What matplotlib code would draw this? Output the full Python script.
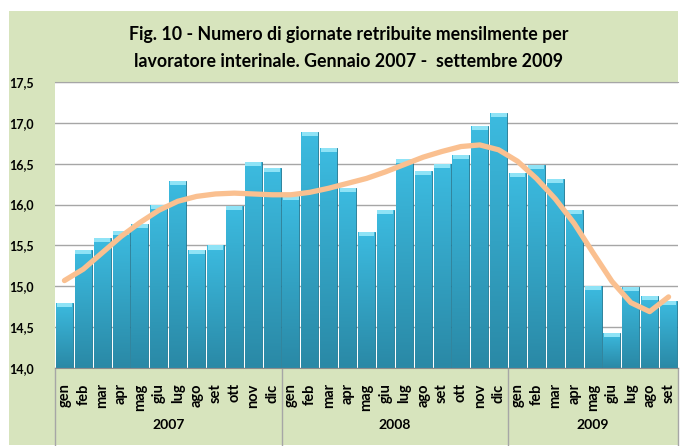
import numpy as np
import matplotlib
matplotlib.use("Agg")
import matplotlib.pyplot as plt
from matplotlib.patches import Rectangle
from matplotlib.ticker import FuncFormatter
from matplotlib.colors import LinearSegmentedColormap

plt.rcParams['font.family'] = ['Lato', 'DejaVu Sans']

title = "Fig. 10 - Numero di giornate retribuite mensilmente per\nlavoratore interinale. Gennaio 2007 -  settembre 2009"

months = ["gen", "feb", "mar", "apr", "mag", "giu", "lug", "ago", "set", "ott", "nov", "dic"]
years = ["2007", "2008", "2009"]
months_per_year = [12, 12, 9]

# giornate retribuite per mese
values = [14.80, 15.44, 15.59, 15.68, 15.76, 16.00, 16.29, 15.45, 15.50, 15.98, 16.52, 16.45,
          16.11, 16.89, 16.69, 16.20, 15.66, 15.93, 16.56, 16.41, 16.50, 16.61, 16.96, 17.12,
          16.39, 16.48, 16.31, 15.93, 15.00, 14.43, 14.99, 14.88, 14.82]

# linea di tendenza
trend = [15.07, 15.21, 15.41, 15.61, 15.78, 15.93, 16.04, 16.10, 16.13, 16.14, 16.13, 16.12,
         16.12, 16.15, 16.20, 16.26, 16.32, 16.40, 16.49, 16.58, 16.65, 16.71, 16.73, 16.67,
         16.53, 16.32, 16.07, 15.77, 15.41, 15.06, 14.80, 14.69, 14.87]

W, H = 680, 446
fig = plt.figure(figsize=(W / 100, H / 100), dpi=100)
fig.patch.set_facecolor('white')
green = '#d7e4bd'
fig.add_artist(Rectangle((9 / W, 1 / H), 669 / W, 434 / H, transform=fig.transFigure,
                         facecolor=green, edgecolor='none', zorder=-5))

ax = fig.add_axes([55 / W, (H - 368) / H, 623 / W, 286 / H])
ax.set_facecolor('white')

x = np.arange(len(values))
labels = [months[i] for n in months_per_year for i in range(n)]

bars = ax.bar(x, [v - 14 for v in values], bottom=14, width=0.9, color='#34b0d6',
              edgecolor='#1f7590', linewidth=0.6, zorder=2)

# gradiente verticale sulle barre
grad = np.linspace(0, 1, 100).reshape(-1, 1)
cmap = LinearSegmentedColormap.from_list('b', ['#2a89a6', '#3cbbe0'])
for b in bars:
    bx, by = b.get_x(), b.get_y()
    im = ax.imshow(grad, extent=[bx, bx + b.get_width(), by, by + b.get_height()],
                   origin='lower', cmap=cmap, aspect='auto', zorder=2.5)
    im.set_clip_path(b)
# riflesso in cima
ax.bar(x, 0.05, bottom=[v - 0.05 for v in values], width=0.84, color='#8fe3f6',
       edgecolor='none', zorder=3)

ax.plot(x, trend, color='#fac090', lw=3.8, solid_capstyle='round',
        solid_joinstyle='round', zorder=4)

ax.set_xlim(-0.5, len(values) - 0.5)
ax.set_ylim(14, 17.5)
ax.set_yticks(np.arange(14, 17.51, 0.5))
ax.yaxis.set_major_formatter(FuncFormatter(lambda v, p: f"{v:.1f}".replace('.', ',')))
ax.grid(axis='y', color='#a6a6a6', lw=1, zorder=1)
ax.set_axisbelow(True)
for s in ['left', 'right']:
    ax.spines[s].set_visible(False)
ax.spines['top'].set_color('#a6a6a6')
ax.spines['bottom'].set_color('#8c8c8c')
ax.tick_params(axis='y', length=0, pad=15, labelsize=9)
for t in ax.get_yticklabels():
    t.set_fontweight('bold')

ax.set_xticks(x)
ax.set_xticklabels(labels, rotation=90, fontsize=10.5, fontweight='bold', va='top')
ax.tick_params(axis='x', length=0, pad=11)

# separatori e etichette degli anni
start = -0.5
for yr, n in zip(years, months_per_year):
    ax.plot([start, start], [0, -0.27], transform=ax.get_xaxis_transform(),
            color='#a6a6a6', lw=1, clip_on=False)
    ax.text(start + n / 2, -0.2, yr, transform=ax.get_xaxis_transform(),
            ha='center', va='center', fontsize=10, fontweight='bold')
    start += n
ax.plot([start, start], [0, -0.27], transform=ax.get_xaxis_transform(),
        color='#a6a6a6', lw=1, clip_on=False)

fig.text(349 / W, 1 - 48 / H, title, ha='center', va='center', fontsize=12.8,
         fontweight='bold', linespacing=1.75)

fig.savefig('out.png', dpi=100, facecolor=fig.get_facecolor())
